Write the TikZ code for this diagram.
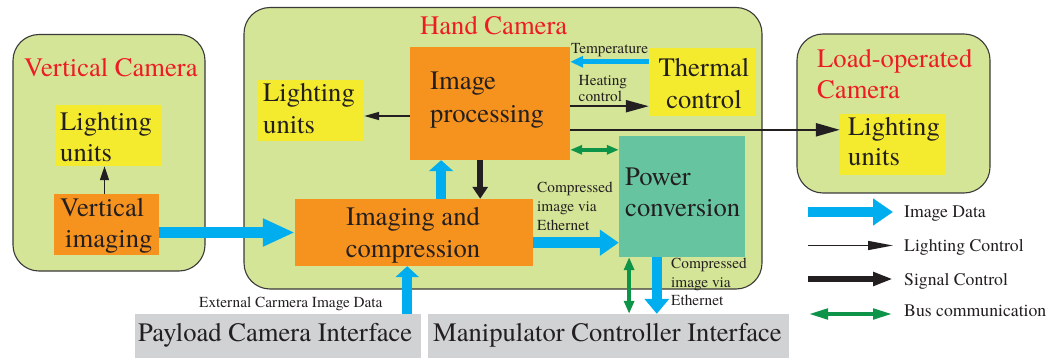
\documentclass[tikz,border=0pt]{standalone}
\usepackage{fontspec}
\setmainfont{texgyretermes}[Extension=.otf, UprightFont=*-regular, BoldFont=*-bold]
\newfontfamily\timesface{texgyretermes}[Extension=.otf, UprightFont=*-regular, BoldFont=*-bold]
\usetikzlibrary{arrows.meta}

\definecolor{camfill}{HTML}{D4E597}
\definecolor{edge}{HTML}{3A3A3A}
\definecolor{camred}{HTML}{ED1C24}
\definecolor{ink}{HTML}{231F20}
\definecolor{procorange}{HTML}{F6921E}
\definecolor{lampyellow}{HTML}{F4EB2F}
\definecolor{powerteal}{HTML}{66C5A0}
\definecolor{portgray}{HTML}{D1D2D4}
\definecolor{flowblue}{HTML}{00AEEF}
\definecolor{busgreen}{HTML}{0E9448}

\newcommand\bigtxt{\timesface\fontsize{26.6}{31.5}\selectfont}
\newcommand\smalltxt{\timesface\fontsize{15.3}{19}\selectfont}
\newcommand\legendtxt{\timesface\fontsize{17.7}{21}\selectfont}
\newcommand\bigat[1]{\timesface\fontsize{26.6}{#1}\selectfont}
\newcommand\smallat[1]{\timesface\fontsize{15.3}{#1}\selectfont}

\begin{document}
\begin{tikzpicture}[x=1pt,y=-1pt,
  cam/.style={draw=edge, line width=1.1pt, fill=camfill, rounded corners=26pt, inner sep=0pt},
  blk/.style={inner sep=0pt, draw=none, fill=#1},
  big/.style={font=\bigtxt, text=ink, inner sep=0pt, align=left},
  bigc/.style={font=\bigtxt, text=ink, inner sep=0pt, align=center},
  title/.style={font=\bigtxt, text=camred, inner sep=0pt, align=left},
  small/.style={font=\smalltxt, text=ink, inner sep=0pt, align=left},
  legend/.style={font=\legendtxt, text=ink, inner sep=0pt},
  imgflow/.style n args={3}{draw=flowblue, line width=#1, -{Triangle[length=#2, width=#3]}},
  litctl/.style n args={3}{draw=ink, line width=#1, -{Triangle[length=#2, width=#3]}},
  busflow/.style n args={3}{draw=busgreen, line width=#1,
     {Triangle[length=#2, width=#3]}-{Triangle[length=#2, width=#3]}},
]
\useasboundingbox (0,0) rectangle (1062,358);

% camera enclosures
\node[cam, minimum width=192pt, minimum height=236.5pt] (vcam) at (109,152.75) {};
\node[cam, minimum width=518pt, minimum height=281.5pt] (hcam) at (503,148.25) {};
\node[cam, minimum width=193pt, minimum height=159pt] (lcam) at (893.5,113.5) {};

\node[title, anchor=base west] (vcamT) at (24,77) {Vertical Camera};
\node[title, anchor=base west] (hcamT) at (420,35) {Hand Camera};
\node[title, anchor=north west, font=\bigat{31}] (lcamT) at (817,48.8) {Load-operated\\Camera};

% functional blocks
\node[blk=lampyellow, minimum width=106pt, minimum height=61pt] (vlight) at (109,135.5) {};
\node[blk=procorange, minimum width=105pt, minimum height=61pt] (vimg) at (106.5,224.5) {};
\node[blk=lampyellow, minimum width=107pt, minimum height=61pt] (hlight) at (310.5,110.5) {};
\node[blk=procorange, minimum width=160pt, minimum height=113pt] (improc) at (490,103.5) {};
\node[blk=lampyellow, minimum width=106pt, minimum height=68pt] (thermal) at (702,82) {};
\node[blk=powerteal, minimum width=126pt, minimum height=121pt] (power) at (682,196.5) {};
\node[blk=procorange, minimum width=238pt, minimum height=67pt] (imgc) at (414,232.5) {};
\node[blk=lampyellow, minimum width=106pt, minimum height=61pt] (llight) at (893,144.5) {};
\node[blk=portgray, minimum width=286pt, minimum height=44pt] (payload) at (278,336) {};
\node[blk=portgray, minimum width=361pt, minimum height=44pt] (manip) at (608.5,336) {};

% block captions
\node[big, anchor=north west, font=\bigat{31}] (vlightT) at (60,111.8) {Lighting\\units};
\node[big, anchor=north west, font=\bigat{31}] (vimgT) at (60,197.8) {Vertical\\\hspace*{5pt}imaging};
\node[big, anchor=north west] (hlightT) at (263,83.5) {Lighting\\units};
\node[big, anchor=north west, font=\bigat{32.7}] (improcT) at (430,71.7) {Image\\processing};
\node[bigc, anchor=north, font=\bigat{32}] (thermT) at (704,57.8) {Thermal\\control};
\node[big, anchor=north west, font=\bigat{31.7}] (powerT) at (625,167.4) {Power\\conversion};
\node[bigc, anchor=north, font=\bigat{32}] (imgcT) at (413,206.8) {Imaging and\\compression};
\node[big, anchor=north west, font=\bigat{30.7}] (llightT) at (848,116.8) {Lighting\\units};
\node[big, anchor=base west] (payT) at (138,341) {Payload Camera Interface};
\node[big, anchor=base west] (manT) at (433,341) {Manipulator Controller Interface};

% connector labels
\node[small, anchor=base west] (extT) at (199,307.7) {External Carmera Image Data};
\node[small, anchor=base west] (tempT) at (571,53.3) {Temperature};
\node[small, anchor=north west, font=\smallat{16.7}] (heatT) at (578.5,74.9) {Heating\\control};
\node[small, anchor=north west, font=\smallat{19.2}] (comp1T) at (537,181.8) {Compressed\\image via\\Ethernet};
\node[small, anchor=north west, font=\smallat{18.5}] (comp2T) at (671,258) {Compressed\\image via\\Ethernet};

% attachment points on the blocks
\coordinate (vimgTop) at ([xshift=-2pt]vimg.north);
\coordinate (hlightIn) at ([yshift=-5.5pt]hlight.east);
\coordinate (thermTemp) at ([yshift=-14pt]thermal.north west);
\coordinate (thermHeat) at ([yshift=10pt]thermal.south west);
\coordinate (llightIn) at ([yshift=-16pt]llight.north west);
\coordinate (powerBus) at ([yshift=-14pt]power.north west);
\coordinate (procUp) at ([xshift=31.3pt]improc.south west);
\coordinate (procDown) at ([xshift=70.4pt]improc.south west);
\coordinate (powerIn) at ([yshift=14.5pt]power.south west);
\coordinate (powerBusDn) at ([xshift=10.3pt]power.south west);
\coordinate (powerOut) at ([xshift=38pt]power.south west);
\coordinate (payOut) at ([xshift=-14pt]payload.north east);

% connectors
\draw[litctl={1.6pt}{14pt}{9pt}] (vimgTop) -- (vimgTop |- vlight.south);
\draw[imgflow={11pt}{32pt}{26pt}] (vimg.east |- imgc.west) -- (imgc.west);
\draw[litctl={1.6pt}{15pt}{8pt}] (improc.west |- hlightIn) -- (hlightIn);
\draw[imgflow={4.7pt}{13pt}{11pt}] (thermTemp) -- (improc.east |- thermTemp);
\draw[litctl={2.2pt}{23pt}{12pt}] (improc.east |- thermHeat) -- (thermHeat);
\draw[litctl={2.4pt}{24pt}{13pt}] (improc.east |- llightIn) -- (llightIn);
\draw[busflow={4pt}{12pt}{9pt}] (improc.east |- powerBus) -- (powerBus);
\draw[imgflow={10.5pt}{11pt}{24pt}] (procUp |- imgc.north) -- (procUp);
\draw[litctl={6pt}{12pt}{15pt}] (procDown) -- (procDown |- imgc.north);
\draw[imgflow={11pt}{19pt}{25pt}] (imgc.east |- powerIn) -- (powerIn);
\draw[busflow={4pt}{13pt}{10pt}] (powerBusDn) -- (powerBusDn |- manip.north);
\draw[imgflow={10pt}{15pt}{24pt}] (powerOut) -- (powerOut |- manip.north);
\draw[imgflow={10pt}{11pt}{23pt}] (payOut) -- (payOut |- imgc.south);

% key
\coordinate (kImgA) at (808,212);   \coordinate (kImgB) at (893,212);
\coordinate (kLitA) at (808,245.5); \coordinate (kLitB) at (893,245.5);
\coordinate (kSigA) at (808,279);   \coordinate (kSigB) at (893,279);
\coordinate (kBusA) at (808,314);   \coordinate (kBusB) at (893,314);
\draw[imgflow={10pt}{20pt}{26pt}] (kImgA) -- (kImgB);
\draw[litctl={1.5pt}{25pt}{9pt}] (kLitA) -- (kLitB);
\draw[litctl={6pt}{20pt}{13pt}] (kSigA) -- (kSigB);
\draw[busflow={4.5pt}{20pt}{10pt}] (kBusA) -- (kBusB);
\node[legend, anchor=base west] (kImgT) at (904,217.3) {Image Data};
\node[legend, anchor=base west] (kLitT) at (904,251.5) {Lighting Control};
\node[legend, anchor=base west] (kSigT) at (904,285) {Signal Control};
\node[legend, anchor=base west] (kBusT) at (904,316.7) {Bus communication};
\end{tikzpicture}
\end{document}
